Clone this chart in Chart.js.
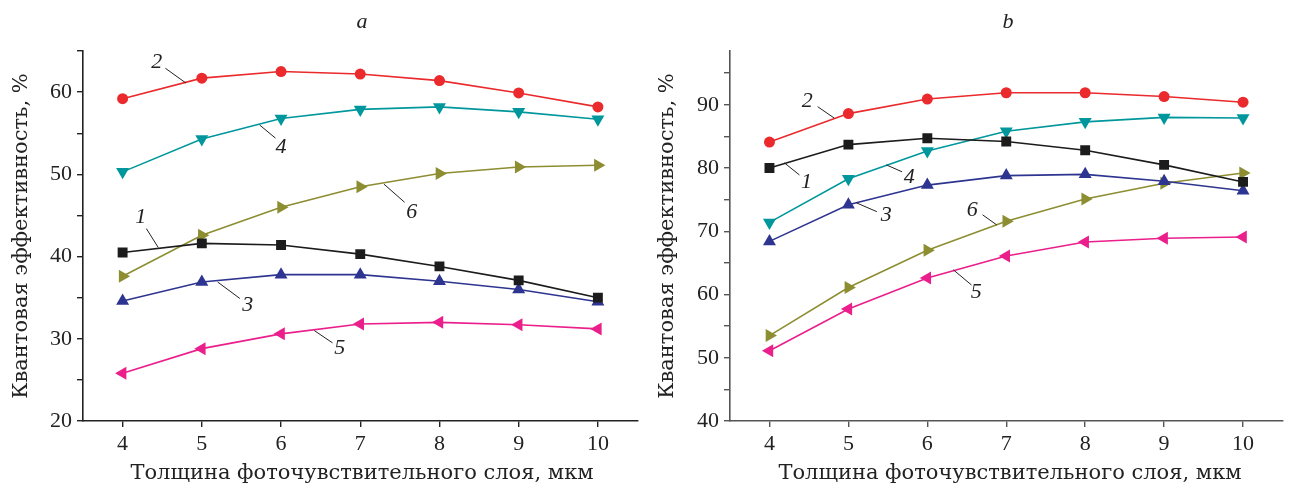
<!DOCTYPE html>
<html>
<head>
<meta charset="utf-8">
<script src="https://cdn.jsdelivr.net/npm/chart.js@4"></script>
<style>
  html, body { margin: 0; padding: 0; background: #fff; }
  #wrap { position: relative; width: 1290px; height: 488px; }
  .panel { position: absolute; top: 0; width: 645px; height: 488px; }
</style>
</head>
<body>
<div id="wrap">
  <div class="panel" style="left:0"><canvas id="chartA"></canvas></div>
  <div class="panel" style="left:645px"><canvas id="chartB"></canvas></div>
</div>
<script>
// thickness of photosensitive layer, um
const thickness = [4, 5, 6, 7, 8, 9, 10];
const xTicks = [4, 5, 6, 7, 8, 9, 10];

// panel a
const a1 = [40.5, 41.6, 41.4, 40.3, 38.8, 37.1, 35.0];
const a2 = [59.2, 61.7, 62.5, 62.2, 61.4, 59.9, 58.2];
const a3 = [34.6, 36.9, 37.8, 37.8, 37.0, 36.0, 34.5];
const a4 = [50.3, 54.3, 56.8, 57.9, 58.2, 57.6, 56.7];
const a5 = [25.8, 28.8, 30.6, 31.8, 32.0, 31.7, 31.2];
const a6 = [37.6, 42.6, 46.0, 48.5, 50.1, 50.9, 51.1];
const yTicksA = [20, 25, 30, 35, 40, 45, 50, 55, 60, 65];

// panel b
const b1 = [80.0, 83.7, 84.7, 84.2, 82.8, 80.5, 77.8];
const b2 = [84.1, 88.6, 90.9, 91.9, 91.9, 91.3, 90.4];
const b3 = [68.4, 74.2, 77.3, 78.8, 79.0, 77.9, 76.4];
const b4 = [71.4, 78.3, 82.7, 85.8, 87.3, 88.0, 87.9];
const b5 = [51.1, 57.7, 62.6, 66.1, 68.3, 68.9, 69.1];
const b6 = [53.5, 61.1, 67.0, 71.6, 75.1, 77.6, 79.2];
const yTicksB = [40, 45, 50, 55, 60, 65, 70, 75, 80, 85, 90, 95];

// curve numbers: [text, textX, textY, lineX1, lineY1, lineX2, lineY2] in data units
const notesA = [
  ['2', 4.43, 63.6, 4.54, 62.9, 4.80, 61.1],
  ['4', 6.00, 53.3, 5.73, 56.0, 5.93, 54.4],
  ['1', 4.23, 44.8, 4.30, 43.4, 4.45, 41.1],
  ['3', 5.58, 34.1, 5.20, 36.9, 5.48, 34.9],
  ['5', 6.74, 28.9, 6.42, 31.0, 6.65, 29.5],
  ['6', 7.65, 45.4, 7.30, 48.8, 7.56, 46.6]
];
const notesB = [
  ['2', 4.48, 90.5, 4.61, 89.7, 4.82, 87.9],
  ['1', 4.47, 77.8, 4.19, 80.8, 4.38, 78.9],
  ['4', 5.77, 78.6, 5.48, 80.5, 5.68, 79.4],
  ['3', 5.48, 72.6, 5.10, 74.5, 5.36, 73.1],
  ['6', 6.57, 73.4, 6.70, 72.6, 6.88, 71.0],
  ['5', 6.62, 60.4, 6.33, 63.9, 6.56, 61.5]
];

const colors = ['#1c1c1c', '#ea2a2c', '#2e3591', '#00979c', '#ea1f8c', '#8d8d32'];
const styles = [
  { pointStyle: 'rect', rot: 0, r: 7 },
  { pointStyle: 'circle', rot: 0, r: 5.5 },
  { pointStyle: 'triangle', rot: 0, r: 7.5 },
  { pointStyle: 'triangle', rot: 180, r: 7.5 },
  { pointStyle: 'triangle', rot: -90, r: 7.5 },
  { pointStyle: 'triangle', rot: 90, r: 7.5 }
];

const serif = '"Liberation Serif", "DejaVu Serif", serif';
const wideSerif = '"DejaVu Serif", "Liberation Serif", serif';

function makeSets(series) {
  return series.map((vals, i) => ({
    data: thickness.map((x, j) => ({ x: x, y: vals[j] })),
    borderColor: colors[i],
    backgroundColor: colors[i],
    borderWidth: 1.6,
    pointStyle: styles[i].pointStyle,
    pointRotation: styles[i].rot,
    pointRadius: styles[i].r,
    pointBorderWidth: 0,
    tension: 0
  }));
}

const textPlugin = {
  id: 'texts',
  afterDraw(chart, args, opts) {
    const ctx = chart.ctx;
    const sx = chart.scales.x, sy = chart.scales.y;
    ctx.save();
    ctx.fillStyle = '#222';
    ctx.textAlign = 'center';
    ctx.textBaseline = 'middle';
    // panel letter
    ctx.font = 'italic 22px ' + serif;
    ctx.fillText(opts.letter, opts.letterX, 22);
    // x title
    ctx.font = '21px ' + wideSerif;
    ctx.fillText('Толщина фоточувствительного слоя, мкм', opts.xTitleX, 474);
    // y title
    ctx.save();
    ctx.translate(opts.yTitleX, 236);
    ctx.rotate(-Math.PI / 2);
    ctx.fillText('Квантовая эффективность, %', 0, 0);
    ctx.restore();
    // curve numbers
    ctx.font = 'italic 22px ' + serif;
    ctx.strokeStyle = '#222';
    ctx.lineWidth = 1;
    opts.notes.forEach(n => {
      ctx.fillText(n[0], sx.getPixelForValue(n[1]), sy.getPixelForValue(n[2]));
      ctx.beginPath();
      ctx.moveTo(sx.getPixelForValue(n[3]), sy.getPixelForValue(n[4]));
      ctx.lineTo(sx.getPixelForValue(n[5]), sy.getPixelForValue(n[6]));
      ctx.stroke();
    });
    ctx.restore();
  }
};

function makeChart(id, series, yMin, yMax, yTicks, axisColor, texts, yWidth) {
  return new Chart(document.getElementById(id), {
    type: 'line',
    data: { datasets: makeSets(series) },
    options: {
      responsive: false,
      animation: false,
      devicePixelRatio: 1,
      layout: { padding: { top: 51, right: 5, left: 0, bottom: 0 } },
      plugins: {
        legend: { display: false },
        tooltip: { enabled: false },
        texts: texts
      },
      scales: {
        x: {
          type: 'linear',
          min: 3.5,
          max: 10.5,
          afterBuildTicks: s => { s.ticks = xTicks.map(v => ({ value: v })); },
          afterFit: s => { s.height = 67; },
          border: { display: true, color: axisColor, width: 1.6 },
          grid: { drawOnChartArea: false, drawTicks: true, tickLength: 6, color: axisColor, lineWidth: 1.4 },
          ticks: { autoSkip: false, maxRotation: 0, padding: 4, color: '#222', font: { family: serif, size: 22 } }
        },
        y: {
          type: 'linear',
          min: yMin,
          max: yMax,
          afterBuildTicks: s => { s.ticks = yTicks.map(v => ({ value: v })); },
          afterFit: s => { s.width = yWidth; },
          border: { display: true, color: axisColor, width: 1.6 },
          grid: { drawOnChartArea: false, drawTicks: true, tickLength: 6, color: axisColor, lineWidth: 1.4 },
          ticks: {
            autoSkip: false,
            padding: 5,
            color: '#222',
            font: { family: serif, size: 22 },
            callback: v => (v % 10 === 0 ? v : '')
          }
        }
      }
    },
    plugins: [textPlugin]
  });
}

for (const id of ['chartA', 'chartB']) {
  const c = document.getElementById(id);
  c.width = 645; c.height = 488;
  c.style.width = '645px'; c.style.height = '488px';
}

makeChart('chartA', [a1, a2, a3, a4, a5, a6], 20, 65, yTicksA, '#222',
  { letter: 'a', letterX: 362, xTitleX: 362, yTitleX: 22, notes: notesA }, 83);
makeChart('chartB', [b1, b2, b3, b4, b5, b6], 40, 98.5, yTicksB, '#555',
  { letter: 'b', letterX: 363, xTitleX: 365, yTitleX: 23, notes: notesB }, 85);
</script>
</body>
</html>
